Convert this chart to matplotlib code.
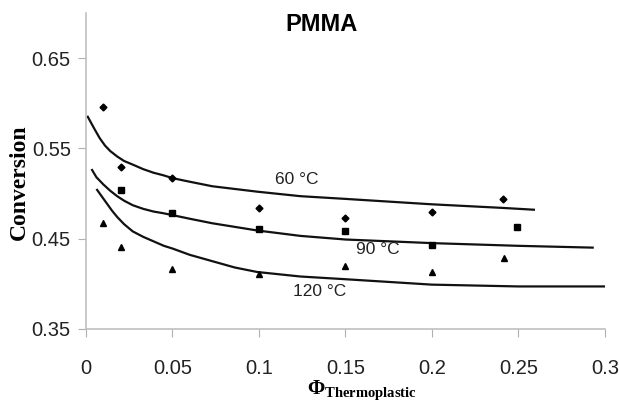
import matplotlib
matplotlib.use("Agg")
import matplotlib.pyplot as plt

# measured conversions (markers)
phi_pts = [0.01, 0.02, 0.05, 0.10, 0.15, 0.20, 0.241]
conv_60 = [0.596, 0.529, 0.517, 0.484, 0.473, 0.479, 0.494]
phi_pts_90 = [0.02, 0.05, 0.10, 0.15, 0.20, 0.249]
conv_90 = [0.504, 0.478, 0.461, 0.458, 0.443, 0.463]
phi_pts_120 = [0.01, 0.02, 0.05, 0.10, 0.15, 0.20, 0.242]
conv_120 = [0.467, 0.441, 0.416, 0.411, 0.420, 0.413, 0.428]

# model curves
phi_m60 = [0.001, 0.003, 0.005, 0.008, 0.011, 0.014, 0.018, 0.022, 0.027, 0.033, 0.039, 0.045, 0.05,
           0.06, 0.073, 0.086, 0.099, 0.124, 0.15, 0.175, 0.2, 0.241, 0.259]
model_60 = [0.585, 0.578, 0.571, 0.561, 0.553, 0.547, 0.541, 0.536, 0.532, 0.527, 0.523, 0.520, 0.517,
            0.513, 0.508, 0.505, 0.502, 0.497, 0.494, 0.491, 0.488, 0.484, 0.482]
phi_m90 = [0.0035, 0.006, 0.01, 0.014, 0.018, 0.022, 0.027, 0.033, 0.039, 0.045, 0.05,
           0.06, 0.073, 0.086, 0.099, 0.124, 0.15, 0.175, 0.2, 0.25, 0.293]
model_90 = [0.526, 0.518, 0.510, 0.503, 0.497, 0.492, 0.487, 0.483, 0.480, 0.478, 0.476,
            0.472, 0.467, 0.463, 0.459, 0.453, 0.449, 0.447, 0.445, 0.442, 0.440]
phi_m120 = [0.0064, 0.009, 0.012, 0.015, 0.018, 0.022, 0.027, 0.033, 0.039, 0.045, 0.05,
            0.06, 0.073, 0.086, 0.099, 0.124, 0.15, 0.175, 0.2, 0.25, 0.30]
model_120 = [0.504, 0.497, 0.489, 0.481, 0.474, 0.466, 0.458, 0.452, 0.447, 0.442, 0.439,
             0.432, 0.425, 0.418, 0.413, 0.408, 0.405, 0.402, 0.399, 0.397, 0.397]

xticks = [0, 0.05, 0.1, 0.15, 0.2, 0.25, 0.3]
xticklabels = ["0", "0.05", "0.1", "0.15", "0.2", "0.25", "0.3"]
yticks = [0.35, 0.45, 0.55, 0.65]
yticklabels = ["0.35", "0.45", "0.55", "0.65"]

sans = ["Liberation Sans", "DejaVu Sans"]
plt.rcParams["mathtext.fontset"] = "custom"
plt.rcParams["mathtext.rm"] = "Liberation Serif:bold"
plt.rcParams["mathtext.bf"] = "Liberation Serif:bold"
plt.rcParams["mathtext.it"] = "Liberation Serif:bold"

fig = plt.figure(figsize=(6.19, 4.05), dpi=100)
ax = fig.add_axes([0.139, 0.188, 0.838, 0.78])

ax.plot(phi_m60, model_60, color="#111111", lw=1.6)
ax.plot(phi_m90, model_90, color="#111111", lw=1.6)
ax.plot(phi_m120, model_120, color="#111111", lw=1.6)

ax.plot(phi_pts, conv_60, "D", color="black", ms=3.5, ls="none")
ax.plot(phi_pts_90, conv_90, "s", color="black", ms=4.5, ls="none")
ax.plot(phi_pts_120, conv_120, "^", color="black", ms=5, ls="none")

ax.text(0.122, 0.5156, "60 °C", family=sans, fontsize=12.5, ha="center", va="center", color="#222222")
ax.text(0.1688, 0.4378, "90 °C", family=sans, fontsize=12.5, ha="center", va="center", color="#222222")
ax.text(0.1353, 0.391, "120 °C", family=sans, fontsize=12.5, ha="center", va="center", color="#222222")

ax.set_xlim(0, 0.3)
ax.set_ylim(0.35, 0.70)
ax.set_xticks(xticks)
ax.set_xticklabels(xticklabels, family=sans, fontsize=14.5, color="#222222")
ax.set_yticks(yticks)
ax.set_yticklabels(yticklabels, family=sans, fontsize=14.5, color="#222222")
ax.tick_params(axis="x", direction="out", length=6, color="#b0b0b0", pad=16)
ax.tick_params(axis="y", direction="out", length=6, color="#b0b0b0", pad=5)

for side in ["top", "right"]:
    ax.spines[side].set_visible(False)
for side in ["left", "bottom"]:
    ax.spines[side].set_color("#c0c0c0")
    ax.spines[side].set_linewidth(1.2)

fig.text(0.519, 0.94, "PMMA", family=sans, fontsize=17, fontweight="bold", ha="center", va="center")
fig.text(0.585, 0.037, r"$\Phi_{Thermoplastic}$", fontsize=15, ha="center", va="center")
fig.text(0.032, 0.55, "Conversion", family="Liberation Serif", fontsize=17, fontweight="bold",
         rotation=90, ha="center", va="center")

fig.savefig("out.png", dpi=100)
